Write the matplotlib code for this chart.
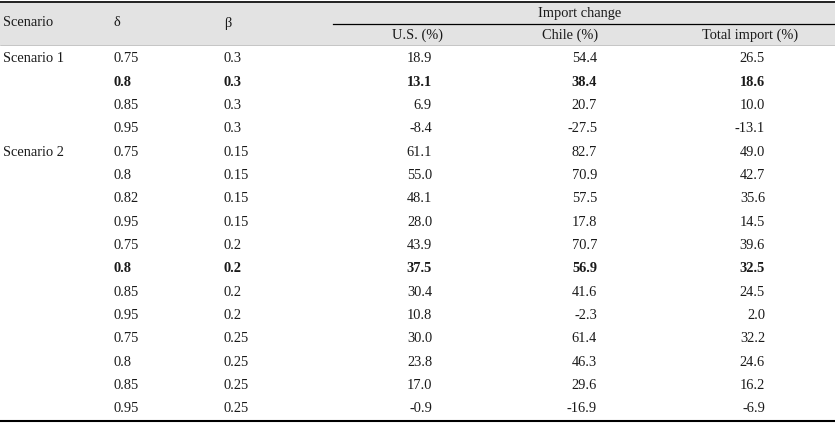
import matplotlib.pyplot as plt
from matplotlib.patches import Rectangle

plt.rcParams['font.family'] = ['Liberation Serif', 'DejaVu Serif']

# table data
scenarios = ["Scenario 1", "", "", "", "Scenario 2", "", "", "", "", "", "", "", "", "", "", ""]
delta = ["0.75", "0.8", "0.85", "0.95", "0.75", "0.8", "0.82", "0.95",
         "0.75", "0.8", "0.85", "0.95", "0.75", "0.8", "0.85", "0.95"]
beta = ["0.3", "0.3", "0.3", "0.3", "0.15", "0.15", "0.15", "0.15",
        "0.2", "0.2", "0.2", "0.2", "0.25", "0.25", "0.25", "0.25"]
us = [18.9, 13.1, 6.9, -8.4, 61.1, 55.0, 48.1, 28.0, 43.9, 37.5, 30.4, 10.8, 30.0, 23.8, 17.0, -0.9]
chile = [54.4, 38.4, 20.7, -27.5, 82.7, 70.9, 57.5, 17.8, 70.7, 56.9, 41.6, -2.3, 61.4, 46.3, 29.6, -16.9]
total = [26.5, 18.6, 10.0, -13.1, 49.0, 42.7, 35.6, 14.5, 39.6, 32.5, 24.5, 2.0, 32.2, 24.6, 16.2, -6.9]
bold_rows = [1, 9]

W, H = 835, 424
fig = plt.figure(figsize=(W / 100, H / 100), dpi=100)
ax = fig.add_axes([0, 0, 1, 1])
ax.set_xlim(0, W)
ax.set_ylim(H, 0)
ax.axis('off')

fs = 10.4
col = '#1a1a1a'

# header
ax.add_patch(Rectangle((0, 1), W, 44, facecolor='#e3e3e3', edgecolor='none'))
ax.plot([0, W], [1.5, 1.5], color='black', lw=1.2)
ax.plot([333, W], [24, 24], color='black', lw=0.9)
ax.plot([0, W], [45, 45], color='#999999', lw=0.4)
ax.plot([0, W], [421, 421], color='black', lw=1.5)

ax.text(3, 23, "Scenario", fontsize=fs, va='center', ha='left', color=col)
ax.text(113, 23, "δ", fontsize=fs, va='center', ha='left', color=col)
ax.text(224, 23, "β", fontsize=fs, va='center', ha='left', color=col)
ax.text(580, 13, "Import change", fontsize=fs, va='center', ha='center', color=col)
ax.text(418, 35, "U.S. (%)", fontsize=fs, va='center', ha='center', color=col)
ax.text(570, 35, "Chile (%)", fontsize=fs, va='center', ha='center', color=col)
ax.text(750, 35, "Total import (%)", fontsize=fs, va='center', ha='center', color=col)

y0, dy = 59, 23.33
for i in range(len(delta)):
    y = y0 + i * dy
    w = 'bold' if i in bold_rows else 'normal'
    ax.text(3, y, scenarios[i], fontsize=fs, va='center', ha='left', color=col)
    ax.text(113, y, delta[i], fontsize=fs, va='center', ha='left', color=col, weight=w)
    ax.text(224, y, beta[i], fontsize=fs, va='center', ha='left', color=col, weight=w)
    ax.text(432, y, f"{us[i]:.1f}", fontsize=fs, va='center', ha='right', color=col, weight=w)
    ax.text(597, y, f"{chile[i]:.1f}", fontsize=fs, va='center', ha='right', color=col, weight=w)
    ax.text(765, y, f"{total[i]:.1f}", fontsize=fs, va='center', ha='right', color=col, weight=w)

fig.savefig("out.png", dpi=100)
